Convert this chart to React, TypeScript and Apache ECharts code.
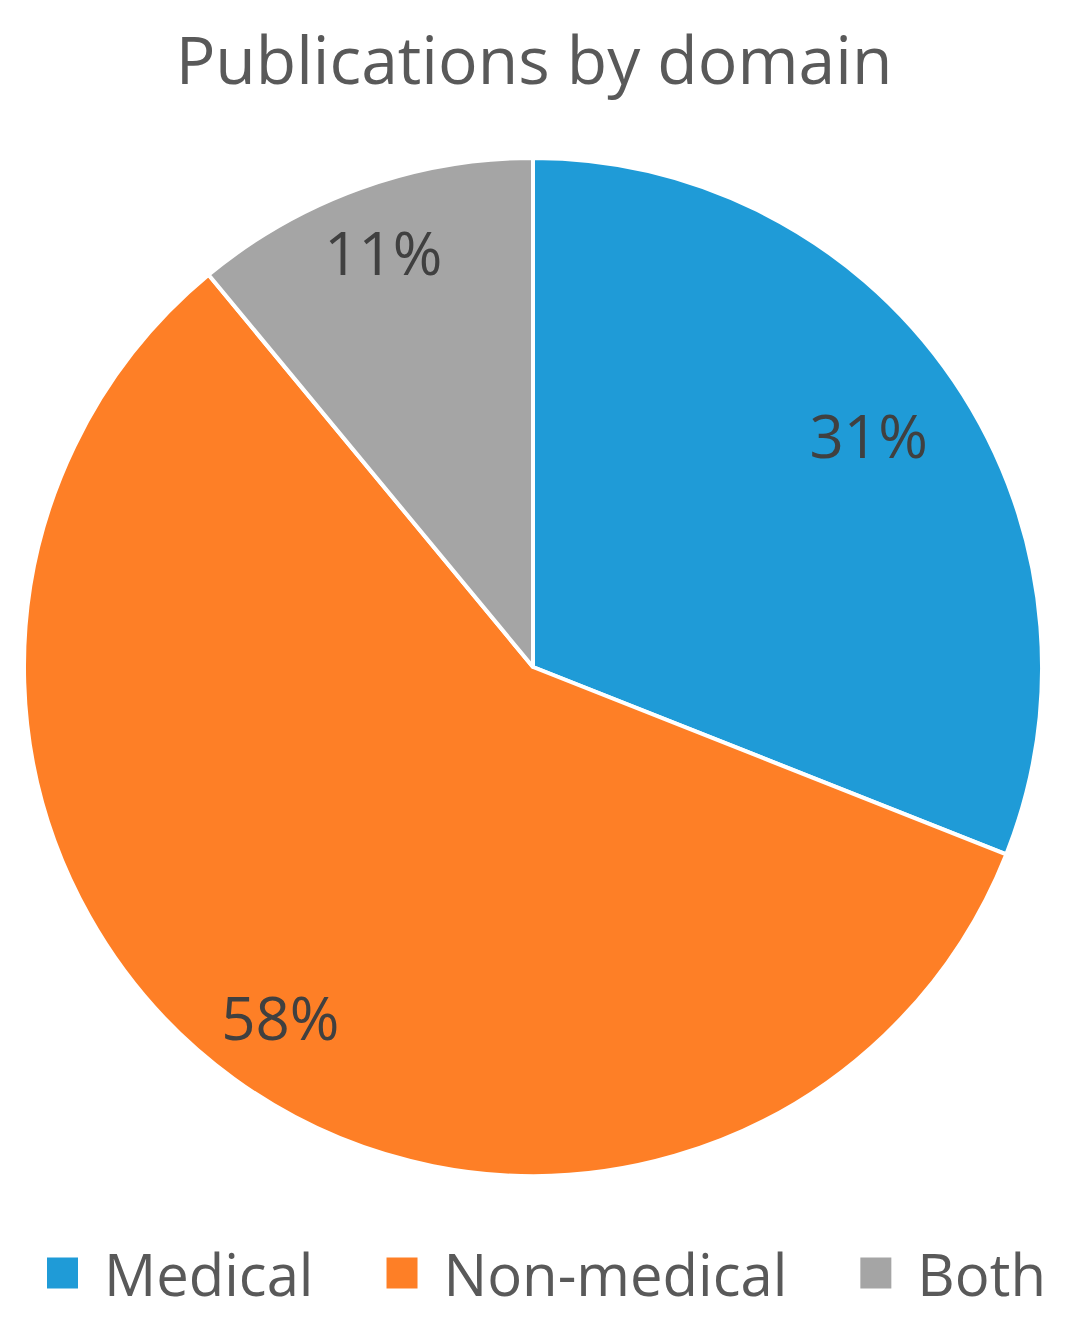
import React, { useEffect, useRef } from "react";
import * as echarts from "echarts";

const categories = ["Medical", "Non-medical", "Both"];
const values = [31, 58, 11];
const colors = ["#1F9BD7", "#FE7F26", "#A5A5A5"];
const titleText = "Publications by domain";
const labelNudges = [[-20, 10], [0, 2], [-4, -10]];

export default function App() {
  const ref = useRef<HTMLDivElement>(null);
  useEffect(() => {
    if (!ref.current) return;
    const chart = echarts.init(ref.current, null, { renderer: "svg" });
    const data = categories.map((name, i) => ({
      name,
      value: values[i],
      itemStyle: { color: colors[i] },
    }));
    const total = values.reduce((a, b) => a + b, 0);
    chart.setOption({
      animation: false,
      backgroundColor: "#ffffff",
      title: {
        text: titleText,
        left: "center",
        top: 20,
        textStyle: {
          fontFamily: "Open Sans",
          fontSize: 66,
          fontWeight: "normal",
          color: "#595959",
        },
      },
      legend: {
        data: categories,
        left: 45,
        top: 1244,
        padding: 0,
        icon: "rect",
        itemWidth: 33,
        itemHeight: 33,
        itemGap: 71,
        textStyle: {
          fontFamily: "Open Sans",
          fontSize: 58,
          color: "#595959",
          padding: [0, 0, 0, 20],
        },
      },
      series: [
        {
          type: "pie",
          center: [533, 667],
          radius: [0, 509],
          startAngle: 90,
          clockwise: true,
          label: { show: false },
          labelLine: { show: false },
          itemStyle: { borderColor: "#ffffff", borderWidth: 4 },
          data,
        },
        {
          type: "pie",
          center: [533, 667],
          radius: [345, 509],
          startAngle: 90,
          clockwise: true,
          silent: true,
          legendHoverLink: false,
          itemStyle: { color: "rgba(0,0,0,0)", borderWidth: 0 },
          label: {
            show: true,
            position: "inside",
            formatter: (p: any) => Math.round((p.value / total) * 100) + "%",
            fontFamily: "Open Sans",
            fontSize: 60,
            color: "#404040",
          },
          labelLine: { show: false },
          data: categories.map((name, i) => ({
            name: name + " ",
            value: values[i],
            label: { offset: labelNudges[i] },
          })),
        },
      ],
    });
    return () => chart.dispose();
  }, []);
  return (
    <div
      ref={ref}
      style={{ position: "absolute", left: 0, top: 0, width: 1068, height: 1330 }}
    />
  );
}
